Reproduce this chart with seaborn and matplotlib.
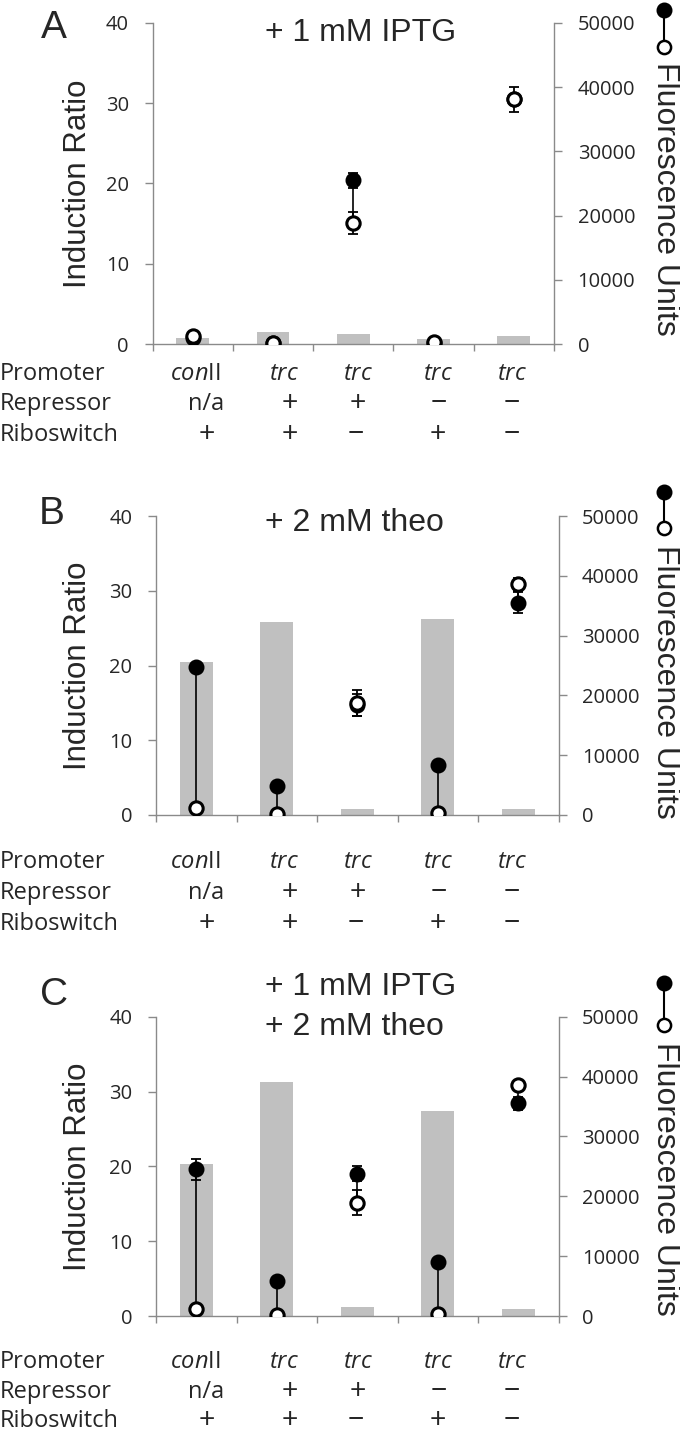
import matplotlib
matplotlib.use("Agg")
import matplotlib.pyplot as plt
from matplotlib.lines import Line2D
import numpy as np
import seaborn as sns

# constructs (5 columns)
promoter = [r"$\mathit{con}$II", r"$\mathit{trc}$", r"$\mathit{trc}$", r"$\mathit{trc}$", r"$\mathit{trc}$"]
repressor = ["n/a", "+", "+", "\u2212", "\u2212"]
riboswitch = ["+", "+", "\u2212", "+", "\u2212"]
row_names = ["Promoter", "Repressor", "Riboswitch"]

panel_letters = ["A", "B", "C"]
panel_titles = ["+ 1 mM IPTG", "+ 2 mM theo", "+ 1 mM IPTG\n+ 2 mM theo"]

# induction ratio (bars, left axis)
ratio_a = [0.8, 1.46, 1.3, 0.58, 1.0]
ratio_b = [20.5, 25.8, 0.85, 26.2, 0.85]
ratio_c = [20.35, 31.3, 1.25, 27.35, 0.9]

# fluorescence units, induced (filled) and uninduced (open), with error
induced_a = [1000, 220, 25500, 200, 38100]
induced_a_err = [0, 0, 1200, 0, 0]
uninduced_a = [1250, 150, 18900, 320, 38100]
uninduced_a_err = [0, 0, 1700, 0, 1950]

induced_b = [24700, 4850, 18400, 8400, 35500]
induced_b_err = [0, 0, 1800, 0, 1800]
uninduced_b = [1150, 190, 18700, 320, 38600]
uninduced_b_err = [0, 0, 2200, 0, 1100]

induced_c = [24500, 5850, 23800, 8950, 35500]
induced_c_err = [1700, 0, 1200, 0, 1100]
uninduced_c = [1100, 190, 18900, 330, 38600]
uninduced_c_err = [0, 0, 2100, 0, 600]

W, H = 680, 1434
BAR = "#c0c0c0"
SPINE = "#8a8a8a"

sns.set_style("ticks")
plt.rcParams["font.family"] = ["Open Sans", "DejaVu Sans"]
plt.rcParams["mathtext.fontset"] = "custom"
plt.rcParams["mathtext.rm"] = "Open Sans"
plt.rcParams["mathtext.it"] = "Open Sans:italic"
BIG = ["Liberation Sans", "DejaVu Sans"]

fig = plt.figure(figsize=(W / 100, H / 100), dpi=100)


def fx(px):
    return px / W


def fy(py):
    return 1 - py / H


# layout in pixels: (left, top, right, bottom) of the plot box, etc.
boxes = [(152.6, 23, 554, 344), (156, 516, 558.5, 815), (156, 1016.7, 558.5, 1316)]
letter_xy = [(54, 28), (52, 514), (54, 995)]
title_y = [33, 523, 1007]
glyph_y = [(10, 47), (492, 528), (983, 1025)]
fluo_top = [62, 545, 1042]
table_base = [(380, 410, 441), (868, 899, 930), (1368, 1398, 1427)]
col_px = [[195, 284, 358, 438, 512], [206, 290, 358, 439, 512], [207, 290, 356, 438, 512]]

panels = [
    (ratio_a, induced_a, induced_a_err, uninduced_a, uninduced_a_err),
    (ratio_b, induced_b, induced_b_err, uninduced_b, uninduced_b_err),
    (ratio_c, induced_c, induced_c_err, uninduced_c, uninduced_c_err),
]

for i, (ratio, ind, ind_err, unind, unind_err) in enumerate(panels):
    l, t, r, b = boxes[i]
    ax = fig.add_axes([fx(l), fy(b), (r - l) / W, (b - t) / H])
    x = np.arange(len(ratio))

    sns.barplot(x=x, y=ratio, ax=ax, color=BAR, saturation=1, width=0.41,
                linewidth=0, errorbar=None)
    ax.set_xlim(-0.5, len(ratio) - 0.5)
    ax.set_ylim(0, 40)
    ax.set_yticks([0, 10, 20, 30, 40])
    ax.set_xticks(np.arange(len(ratio) + 1) - 0.5)
    ax.set_xticklabels([])
    ax.set_xlabel("")
    ax.set_ylabel("Induction Ratio", family=BIG, fontsize=22.5)
    ax.yaxis.label.set_va("center")
    ax.yaxis.set_label_coords((78 - l) / (r - l), 0.5)
    ax.tick_params(axis="y", direction="out", length=6, width=1, color=SPINE,
                   labelsize=14.5, pad=11)
    ax.tick_params(axis="x", direction="out", length=5, width=1, color=SPINE)
    for s in ["top", "right"]:
        ax.spines[s].set_visible(False)
    for s in ["left", "bottom"]:
        ax.spines[s].set_color(SPINE)
        ax.spines[s].set_linewidth(1)

    ax2 = ax.twinx()
    ax2.set_ylim(0, 50000)
    ax2.set_yticks([0, 10000, 20000, 30000, 40000, 50000])
    ax2.tick_params(axis="y", direction="out", length=6, width=1, color=SPINE,
                    labelsize=14.5, pad=11)
    for s in ["top", "left", "bottom"]:
        ax2.spines[s].set_visible(False)
    ax2.spines["right"].set_color(SPINE)
    ax2.spines["right"].set_linewidth(1)

    ind = np.array(ind)
    unind = np.array(unind)
    ind_err = np.array(ind_err)
    unind_err = np.array(unind_err)
    ax2.vlines(x, unind, ind, colors="black", lw=1.2, zorder=2)
    m = ind_err > 0
    ax2.errorbar(x[m], ind[m], yerr=ind_err[m], fmt="none", ecolor="black",
                 elinewidth=1.3, capsize=3.3, capthick=1.3, zorder=2)
    m = unind_err > 0
    ax2.errorbar(x[m], unind[m], yerr=unind_err[m], fmt="none", ecolor="black",
                 elinewidth=1.3, capsize=3.3, capthick=1.3, zorder=2)
    sns.scatterplot(x=x, y=ind, ax=ax2, color="black", edgecolor="black",
                    s=100, linewidth=1.5, zorder=3)
    sns.scatterplot(x=x, y=unind, ax=ax2, color="white", edgecolor="black",
                    s=92, linewidth=2.2, zorder=4)
    ax2.set_xlim(-0.5, len(ratio) - 0.5)

    # panel letter and condition
    fig.text(fx(letter_xy[i][0]), fy(letter_xy[i][1]), panel_letters[i],
             family=BIG, fontsize=28, ha="center", va="center")
    fig.text(fx(265), fy(title_y[i]), panel_titles[i], family=BIG, fontsize=23,
             ha="left", va="center", linespacing=1.45)

    # right-hand label with filled/open glyph
    gx = fx(664)
    g1, g2 = glyph_y[i]
    fig.add_artist(Line2D([gx, gx], [fy(g1), fy(g2)], color="black", lw=1.5))
    fig.add_artist(Line2D([gx], [fy(g1)], marker="o", ms=10, mfc="black",
                          mec="black", mew=1.5, lw=0))
    fig.add_artist(Line2D([gx], [fy(g2)], marker="o", ms=9.5, mfc="white",
                          mec="black", mew=1.8, lw=0))
    fig.text(fx(665), fy(fluo_top[i]), "Fluorescence Units", family=BIG,
             fontsize=23, rotation=270, ha="center", va="top")

    # construct table
    for row, (name, vals) in enumerate(zip(row_names, [promoter, repressor, riboswitch])):
        yb = fy(table_base[i][row])
        fig.text(0.0, yb, name, fontsize=17, ha="left", va="baseline")
        for k, v in enumerate(vals):
            sym = v in ("+", "\u2212")
            fig.text(fx(col_px[row][k]), yb, v, fontsize=20 if sym else 17,
                     ha="center", va="baseline", family=BIG if sym else None)

fig.savefig("out.png", dpi=100)
